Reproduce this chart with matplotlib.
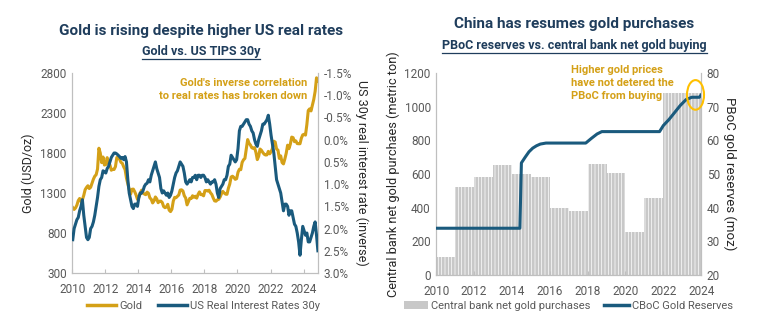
import matplotlib
matplotlib.use("Agg")
import matplotlib.pyplot as plt
import numpy as np
from matplotlib.lines import Line2D
from matplotlib.patches import Patch, Ellipse
import matplotlib.ticker as ticker

# ---- data: left panel (monthly) ----
gold_usd = [
    1118, 1095, 1113, 1148, 1205, 1232, 1193, 1215, 1271, 1342, 1370, 1391,
    1356, 1372, 1424, 1473, 1510, 1529, 1600, 1860, 1800, 1680, 1750, 1650,
    1656, 1742, 1673, 1650, 1585, 1596, 1594, 1630, 1744, 1747, 1722, 1684,
    1671, 1627, 1593, 1487, 1414, 1343, 1286, 1347, 1349, 1316, 1275, 1221,
    1244, 1300, 1336, 1299, 1288, 1279, 1311, 1296, 1239, 1222, 1176, 1201,
    1251, 1227, 1179, 1198, 1199, 1181, 1131, 1117, 1125, 1159, 1086, 1068,
    1097, 1199, 1246, 1242, 1259, 1276, 1337, 1340, 1326, 1266, 1238, 1152,
    1192, 1234, 1231, 1266, 1246, 1260, 1236, 1283, 1314, 1280, 1281, 1265,
    1331, 1331, 1325, 1335, 1303, 1282, 1238, 1202, 1198, 1215, 1221, 1250,
    1291, 1320, 1300, 1286, 1284, 1359, 1413, 1500, 1510, 1495, 1471, 1480,
    1560, 1597, 1592, 1683, 1716, 1732, 1846, 1968, 1922, 1900, 1866, 1858,
    1867, 1808, 1718, 1760, 1850, 1834, 1807, 1785, 1775, 1777, 1821, 1790,
    1817, 1856, 1948, 1937, 1849, 1837, 1733, 1764, 1681, 1664, 1726, 1798,
    1898, 1855, 1912, 1999, 1992, 1942, 1951, 1918, 1916, 1916, 1986, 2027,
    2034, 2024, 2158, 2331, 2352, 2326, 2398, 2470, 2571, 2740, 2700,
]
real_rate_30y = [
    2.25, 2.0, 1.9, 1.8, 1.75, 1.6, 1.5, 1.35, 1.7, 1.95, 2.2, 2.25,
    2.2, 2.0, 1.95, 1.85, 1.7, 1.5, 1.3, 1.05, 0.9, 0.85, 0.7, 0.72,
    0.75, 0.65, 0.6, 0.5, 0.4, 0.35, 0.3, 0.3, 0.32, 0.35, 0.38, 0.42,
    0.4, 0.45, 0.38, 0.5, 0.9, 1.2, 1.35, 1.5, 1.55, 1.45, 1.45, 1.5,
    1.3, 1.2, 1.2, 1.15, 1.05, 1.0, 0.98, 0.9, 0.95, 0.8, 0.7, 0.6,
    0.5, 0.65, 0.75, 0.85, 1.1, 1.2, 1.15, 1.2, 1.25, 1.2, 1.3, 1.25,
    1.15, 1.0, 0.85, 0.75, 0.7, 0.6, 0.5, 0.55, 0.6, 0.75, 0.95, 1.0,
    0.95, 0.9, 0.95, 0.85, 0.85, 0.8, 0.9, 0.8, 0.8, 0.85, 0.8, 0.8,
    0.85, 0.95, 0.9, 0.95, 1.0, 0.95, 0.95, 0.9, 1.0, 1.2, 1.3, 1.1,
    1.05, 1.0, 0.9, 0.9, 0.8, 0.6, 0.55, 0.35, 0.4, 0.45, 0.5, 0.45,
    0.2, -0.2, -0.3, -0.3, -0.35, -0.4, -0.45, -0.45, -0.35, -0.3, -0.2, -0.15,
    0.0, 0.1, 0.15, 0.0, -0.1, -0.2, -0.35, -0.35, -0.4, -0.45, -0.55, -0.35,
    -0.1, 0.1, 0.3, 0.6, 0.9, 1.0, 1.1, 1.2, 1.4, 1.6, 1.45, 1.45,
    1.5, 1.7, 1.6, 1.6, 1.75, 1.9, 1.95, 2.1, 2.3, 2.6, 2.25, 1.95,
    2.05, 2.15, 2.1, 2.3, 2.3, 2.2, 2.1, 1.95, 1.85, 2.15, 2.5,
]

# ---- data: right panel ----
cb_years = list(range(2010, 2024))
cb_net_buying = [110, 520, 583, 655, 601, 583, 399, 383, 659, 609, 256, 456, 1083, 1083]
pboc_x = [2010.0, 2014.42, 2014.5, 2014.7, 2014.9, 2015.1, 2015.3, 2015.5, 2015.8,
          2017.9, 2018.2, 2018.5, 2018.75, 2021.8, 2022.0, 2022.3, 2022.6, 2022.9,
          2023.2, 2023.5, 2023.9, 2024.0]
pboc_moz = [33.9, 33.9, 53.3, 55.0, 56.6, 57.7, 58.4, 58.9, 59.2,
            59.2, 60.6, 61.9, 62.6, 62.6, 64.4, 66.2, 68.3, 70.4,
            72.1, 72.8, 72.8, 73.5]

GOLD = '#D4A017'
BLUE = '#1A5A7D'
NAVY = '#1F3D5C'
GRAY_TXT = '#595959'
SPINE = '#BFBFBF'

plt.rcParams['font.family'] = ['Roboto', 'DejaVu Sans']
plt.rcParams['hatch.linewidth'] = 0.5

fig = plt.figure(figsize=(7.68, 3.35), dpi=100, facecolor='white')


def style_axes(ax):
    ax.spines['top'].set_visible(False)
    for side in ['left', 'right', 'bottom']:
        ax.spines[side].set_color(SPINE)
        ax.spines[side].set_linewidth(0.8)
    ax.tick_params(axis='both', colors=GRAY_TXT, labelsize=8.5, length=0, pad=4)
    ax.tick_params(axis='x', length=3, direction='in', color=SPINE, pad=7)


def underlined_title(x, y, text, size):
    t = fig.text(x, y, text, ha='center', va='baseline', fontsize=size,
                 fontweight='bold', color=NAVY)
    fig.canvas.draw()
    bb = t.get_window_extent().transformed(fig.transFigure.inverted())
    fig.add_artist(Line2D([bb.x0, bb.x1], [y - 0.012, y - 0.012],
                          transform=fig.transFigure, color=NAVY, lw=0.9))


# ================= left panel =================
ax = fig.add_axes([0.094, 0.185, 0.320, 0.597])
months = 2010 + (np.arange(len(gold_usd)) + 0.4) / 12
ax.plot(months, gold_usd, color=GOLD, lw=2.2, zorder=2)
ax.set_xlim(2010, 2024.87)
ax.set_ylim(300, 2800)
ax.set_yticks(range(300, 2801, 500))
ax.set_xticks(range(2010, 2025, 2))
style_axes(ax)
ax.set_ylabel('Gold (USD/oz)', fontsize=9, color='#262626', labelpad=4)

axr = ax.twinx()
axr.plot(months, real_rate_30y, color=BLUE, lw=2.2, zorder=3)
axr.set_ylim(3.0, -1.5)
axr.set_yticks(np.arange(-1.5, 3.01, 0.5))
axr.yaxis.set_major_formatter(ticker.FuncFormatter(lambda v, p: f'{v + 0.0:.1f}%'))
style_axes(axr)
axr.set_ylabel('US 30y real interest rate (inverse)', fontsize=9, color='#262626',
               rotation=270, labelpad=12)

ax.text(0.955, 0.975, "Gold's inverse correlation\nto real rates has broken down",
        transform=ax.transAxes, ha='right', va='top', fontsize=8, fontweight='bold',
        color=GOLD, linespacing=1.35)

fig.text(0.262, 0.895, 'Gold is rising despite higher US real rates', ha='center',
         va='baseline', fontsize=11, fontweight='bold', color=NAVY)
underlined_title(0.262, 0.835, 'Gold vs. US TIPS 30y', 9)

fig.legend(handles=[Line2D([0], [0], color=GOLD, lw=2.5, label='Gold'),
                    Line2D([0], [0], color=BLUE, lw=2.5, label='US Real Interest Rates 30y')],
           loc='center', bbox_to_anchor=(0.265, 0.088), ncol=2, frameon=False,
           fontsize=8, labelcolor=GRAY_TXT, handlelength=2.6, handletextpad=0.3,
           columnspacing=1.4)

# ================= right panel =================
bx = fig.add_axes([0.568, 0.179, 0.345, 0.603])
bx.bar(np.array(cb_years) + 0.5, cb_net_buying, width=1.0, color='#C8C8C8',
       edgecolor='white', linewidth=0, hatch='|||||', zorder=1)
bx.set_xlim(2010, 2024)
bx.set_ylim(0, 1200)
bx.set_yticks(range(0, 1201, 200))
bx.set_xticks(range(2010, 2025, 2))
style_axes(bx)
bx.set_ylabel('Central bank net gold purchaes (metric ton)', fontsize=9.2,
              color='#262626', labelpad=3)

bxr = bx.twinx()
bxr.plot(pboc_x, pboc_moz, color=BLUE, lw=2.2, zorder=3)
bxr.set_ylim(20, 80)
bxr.set_yticks(range(20, 81, 10))
style_axes(bxr)
bxr.set_ylabel('PBoC gold reserves (moz)', fontsize=9.5, color='#262626',
               rotation=270, labelpad=12)
bxr.add_patch(Ellipse((pboc_x[-2] - 0.2, pboc_moz[-1]), width=0.9, height=8.8,
                      fill=False, edgecolor='#FFC000', lw=1.5, clip_on=False, zorder=4))

bx.text(0.51, 1.04, 'Higher gold prices\nhave not detered the\nPBoC from buying',
        transform=bx.transAxes, ha='left', va='top', fontsize=8, fontweight='bold',
        color=GOLD, linespacing=1.35)

fig.text(0.748, 0.915, 'China has resumes gold purchases', ha='center',
         va='baseline', fontsize=11, fontweight='bold', color=NAVY)
underlined_title(0.748, 0.855, 'PBoC reserves vs. central bank net gold buying', 9)

fig.legend(handles=[Patch(facecolor='#C8C8C8', label='Central bank net gold purchases'),
                    Line2D([0], [0], color=BLUE, lw=2.5, label='CBoC Gold Reserves')],
           loc='center', bbox_to_anchor=(0.74, 0.088), ncol=2, frameon=False,
           fontsize=8, labelcolor=GRAY_TXT, handlelength=2.2, handletextpad=0.3,
           columnspacing=1.2)

fig.savefig('out.png', dpi=100, facecolor='white')
